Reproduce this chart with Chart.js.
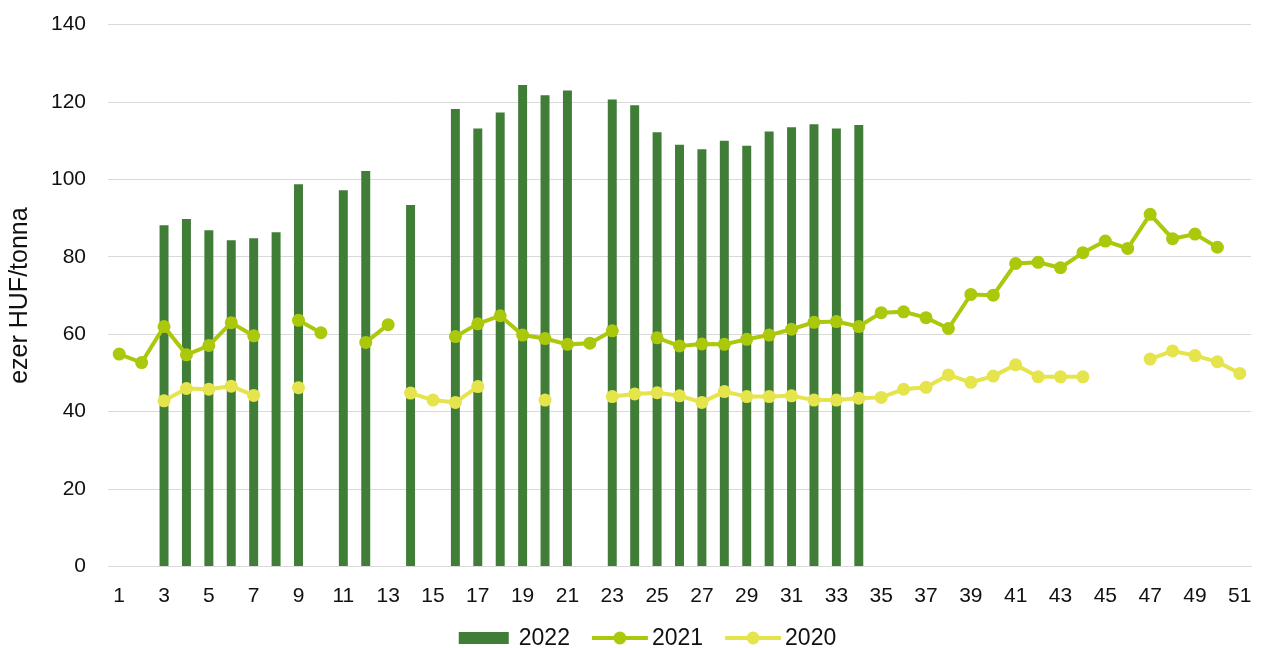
<!DOCTYPE html>
<html>
<head>
<meta charset="utf-8">
<script src="https://cdn.jsdelivr.net/npm/chart.js@4"></script>
<style>
  html, body { margin: 0; padding: 0; background: #fff; }
  #wrap { width: 1265px; height: 648px; }
</style>
</head>
<body>
<div id="wrap"><canvas id="chart" width="1265" height="648"></canvas></div>
<script>
/* ── DATA ── */
var weeks = [];
for (var w = 1; w <= 51; w++) weeks.push(String(w));

// 2022 bars (weeks 1..51)
var values2022 = [
  null, null, 88.2, 89.8, 86.9, 84.3, 84.8, 86.4, 98.8, null,
  97.2, 102.2, null, 93.4, null, 118.2, 113.2, 117.3, 124.4, 121.8,
  123.0, null, 120.7, 119.2, 112.2, 109.0, 107.8, 110.0, 108.7, 112.4,
  113.5, 114.3, 113.2, 114.1, null, null, null, null, null, null,
  null, null, null, null, null, null, null, null, null, null,
  null
];

// 2021 line
var values2021 = [
  54.9, 52.7, 62.0, 54.7, 57.1, 63.0, 59.6, null, 63.6, 60.4,
  null, 57.9, 62.5, null, null, 59.4, 62.7, 64.8, 59.8, 58.9,
  57.4, 57.7, 60.9, null, 59.1, 57.0, 57.5, 57.4, 58.7, 59.8,
  61.3, 63.1, 63.3, 62.0, 65.6, 65.8, 64.3, 61.5, 70.3, 70.1,
  78.3, 78.6, 77.2, 81.1, 84.1, 82.2, 91.0, 84.7, 85.9, 82.5,
  null
];

// 2020 line
var values2020 = [
  null, null, 42.8, 46.0, 45.8, 46.6, 44.2, null, 46.2, null,
  null, null, null, 44.8, 43.0, 42.4, 46.5, null, null, 43.0,
  null, null, 43.9, 44.6, 44.9, 44.1, 42.4, 45.2, 43.9, 43.9,
  44.1, 43.0, 43.0, 43.5, 43.7, 45.8, 46.3, 49.5, 47.6, 49.2,
  52.1, 49.0, 49.0, 49.0, null, null, 53.6, 55.7, 54.5, 52.9,
  49.9
];

var yTicks = [0, 20, 40, 60, 80, 100, 120, 140];
var seriesNames = ['2022', '2021', '2020'];

/* ── STYLE ── */
var C_2022 = '#407D37';
var C_2021 = '#ACC80C';
var C_2020 = '#E6E44C';
var FONT = 'Liberation Sans, Arial, sans-serif';
var TXT = '#111';

/* ── LEGEND (drawn under the plot, Excel style) ── */
var bottomLegend = {
  id: 'bottomLegend',
  afterDraw: function(chart) {
    var g = chart.ctx;
    var metas = chart.data.datasets;
    g.save();
    g.font = '23px ' + FONT;
    g.textBaseline = 'middle';
    var items = metas.map(function(ds, i) {
      var isBar = ds.type === 'bar';
      return { ds: ds, symW: isBar ? 50 : 56, gap: isBar ? 10 : 4, textW: g.measureText(seriesNames[i]).width };
    });
    var spacing = 22;
    var total = 0;
    items.forEach(function(it, i) { total += it.symW + it.gap + it.textW + (i < items.length - 1 ? spacing : 0); });
    var x = chart.width / 2 + 15 - total / 2;
    var y = 638;
    items.forEach(function(it, i) {
      var col = it.ds.backgroundColor;
      if (it.ds.type === 'bar') {
        g.fillStyle = col;
        g.fillRect(x, y - 6, it.symW, 12);
      } else {
        g.strokeStyle = col; g.lineWidth = 4;
        g.beginPath(); g.moveTo(x, y); g.lineTo(x + it.symW, y); g.stroke();
        g.fillStyle = col;
        g.beginPath(); g.arc(x + it.symW / 2, y, 6.5, 0, Math.PI * 2); g.fill();
      }
      x += it.symW + it.gap;
      g.fillStyle = TXT;
      g.fillText(seriesNames[i], x, y + 1);
      x += it.textW + spacing;
    });
    g.restore();
  }
};

/* ── CHART ── */
var ctx = document.getElementById('chart').getContext('2d');
new Chart(ctx, {
  data: {
    labels: weeks,
    datasets: [
      {
        type: 'bar', label: seriesNames[0], data: values2022,
        backgroundColor: C_2022, order: 3,
        categoryPercentage: 1, barPercentage: 0.4
      },
      {
        type: 'line', label: seriesNames[1], data: values2021,
        borderColor: C_2021, backgroundColor: C_2021, borderWidth: 4,
        pointRadius: 6.5, pointBorderWidth: 0, pointBackgroundColor: C_2021,
        tension: 0, spanGaps: false, order: 1
      },
      {
        type: 'line', label: seriesNames[2], data: values2020,
        borderColor: C_2020, backgroundColor: C_2020, borderWidth: 4,
        pointRadius: 6.5, pointBorderWidth: 0, pointBackgroundColor: C_2020,
        tension: 0, spanGaps: false, order: 2
      }
    ]
  },
  options: {
    responsive: false,
    animation: false,
    layout: { padding: { left: 0, right: 14, top: 24.7, bottom: 40 } },
    plugins: {
      tooltip: { enabled: false },
      legend: { display: false }
    },
    scales: {
      x: {
        offset: true,
        afterFit: function(s) { s.height = 41.5; s.paddingLeft = 0; s.paddingRight = 0; },
        grid: { display: false, drawTicks: false },
        border: { display: true, color: '#d9d9d9', width: 1 },
        ticks: {
          autoSkip: false, maxRotation: 0, padding: 17,
          color: TXT, font: { family: FONT, size: 21 },
          callback: function(v, i) { return i % 2 === 0 ? weeks[i] : ''; }
        }
      },
      y: {
        min: 0, max: 140,
        afterBuildTicks: function(s) { s.ticks = yTicks.map(function(v) { return { value: v }; }); },
        afterFit: function(s) { s.width = 108; s.paddingTop = 0; s.paddingBottom = 0; },
        grid: { color: '#d9d9d9', lineWidth: 1, drawTicks: false },
        border: { display: false },
        ticks: { padding: 22, color: TXT, font: { family: FONT, size: 21 } },
        title: {
          display: true, text: 'ezer HUF/tonna', color: TXT,
          font: { family: FONT, size: 25 }, padding: { top: 5, bottom: 0 }
        }
      }
    }
  },
  plugins: [bottomLegend]
});
</script>
</body>
</html>
